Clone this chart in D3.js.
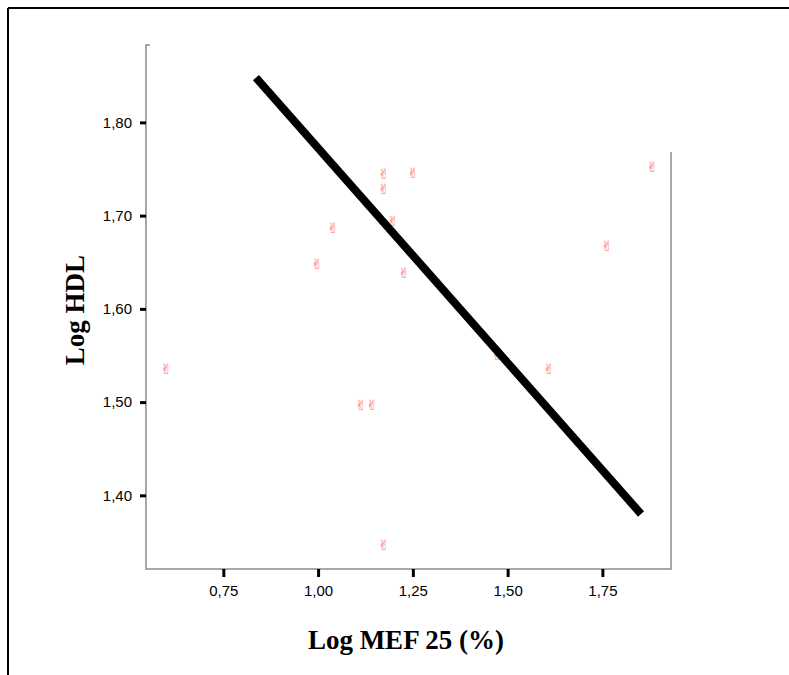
<!DOCTYPE html>
<html>
<head>
<meta charset="utf-8">
<script src="https://cdn.jsdelivr.net/npm/d3@7"></script>
<style>
  body { margin: 0; background: #fff; }
  svg { display: block; }
</style>
</head>
<body>
<svg id="chart" width="789" height="675"></svg>
<script>
// data
var mefValues = [0.599, 0.997, 1.039, 1.113, 1.142, 1.173, 1.173, 1.173, 1.250, 1.197, 1.226, 1.472, 1.609, 1.762, 1.881];
var hdlValues = [1.536, 1.648, 1.687, 1.497, 1.497, 1.745, 1.729, 1.347, 1.746, 1.695, 1.639, 1.551, 1.536, 1.668, 1.753];
var xTicks = [0.75, 1.00, 1.25, 1.50, 1.75];
var yTicks = [1.40, 1.50, 1.60, 1.70, 1.80];
// fit line ends
var fitX = [0.836, 1.852];
var fitY = [1.848, 1.380];

var svg = d3.select("#chart");

// plot box (note: "top" is taken by window.top, so prefix names)
var plotLeft = 146, plotRight = 671, plotTop = 45, plotBottom = 569;

var x = d3.scaleLinear().domain([0.546, 1.931]).range([plotLeft, plotRight]);
var y = d3.scaleLinear().domain([1.321, 1.883]).range([plotBottom, plotTop]);

// outer frame (top + left only visible)
svg.append("line").attr("x1", 8).attr("x2", 789).attr("y1", 8).attr("y2", 8)
    .attr("stroke", "#000").attr("stroke-width", 2);
svg.append("line").attr("x1", 8).attr("x2", 8).attr("y1", 8).attr("y2", 675)
    .attr("stroke", "#000").attr("stroke-width", 2);

// axis lines (gray)
var gray = "#8c8c8c";
svg.append("path")
    .attr("d", "M" + (plotLeft + 4) + "," + plotTop + "H" + plotLeft + "V" + plotBottom + "H" + plotRight + "V152")
    .attr("fill", "none").attr("stroke", gray).attr("stroke-width", 1.5);

var commaFmt = function (d) { return d3.format(".2f")(d).replace(".", ","); };

// y axis
var yAxis = d3.axisLeft(y).tickValues(yTicks).tickSize(6).tickPadding(8).tickFormat(commaFmt);
var gy = svg.append("g").attr("transform", "translate(" + plotLeft + ",0)").call(yAxis);
gy.select(".domain").remove();
gy.selectAll(".tick line").attr("stroke", "#000").attr("stroke-width", 3);
gy.selectAll(".tick text").attr("font-family", "Liberation Sans, Arial, sans-serif")
    .attr("font-size", 15).attr("fill", "#000");

// x axis
var xAxis = d3.axisBottom(x).tickValues(xTicks).tickSize(8).tickPadding(8).tickFormat(commaFmt);
var gx = svg.append("g").attr("transform", "translate(0," + plotBottom + ")").call(xAxis);
gx.select(".domain").remove();
gx.selectAll(".tick line").attr("stroke", "#000").attr("stroke-width", 3);
gx.selectAll(".tick text").attr("font-family", "Liberation Sans, Arial, sans-serif")
    .attr("font-size", 15).attr("fill", "#000");

// points: victory-hand glyph (SPSS marker), kept as text
svg.append("g").selectAll("text")
    .data(d3.zip(mefValues, hdlValues))
    .enter()
    .append("text")
    .attr("x", function (d) { return x(d[0]); })
    .attr("y", function (d) { return y(d[1]); })
    .attr("dy", "0.38em")
    .attr("text-anchor", "middle")
    .attr("font-family", "DejaVu Sans, Noto Sans, sans-serif")
    .attr("font-size", 14)
    .attr("fill", "#ff7070")
    .text("\u270C");

// fit line
svg.append("line")
    .attr("x1", x(fitX[0])).attr("y1", y(fitY[0]))
    .attr("x2", x(fitX[1])).attr("y2", y(fitY[1]))
    .attr("stroke", "#000").attr("stroke-width", 8);

// axis titles
svg.append("text")
    .attr("x", 406).attr("y", 649)
    .attr("text-anchor", "middle")
    .attr("font-family", "Liberation Serif, Times New Roman, serif")
    .attr("font-weight", "bold").attr("font-size", 27)
    .text("Log MEF 25 (%)");

svg.append("text")
    .attr("transform", "translate(84,310) rotate(-90)")
    .attr("text-anchor", "middle")
    .attr("font-family", "Liberation Serif, Times New Roman, serif")
    .attr("font-weight", "bold").attr("font-size", 27)
    .text("Log HDL");
</script>
</body>
</html>
